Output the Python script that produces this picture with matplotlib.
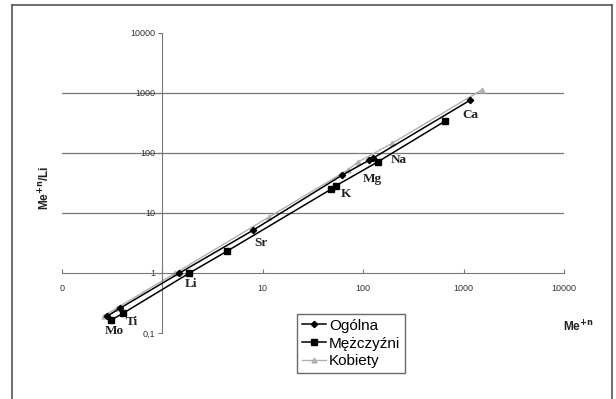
# -*- coding:utf-8 -*-
import matplotlib as mpl
import matplotlib.pyplot as plt
from matplotlib.lines import Line2D

mpl.rcParams['font.family'] = ['Liberation Sans', 'DejaVu Sans']
mpl.rcParams['mathtext.default'] = 'bf'

# element names (sorted by x)
elements = ['Mo', 'Ti', 'Li', 'Sr', 'K', 'Mg', 'Na', 'Ca']

# Ogólna
og_x = [0.283, 0.382, 1.48, 8.06, 62, 115, 126, 1170]
og_y = [0.192, 0.261, 1.0, 5.2, 43, 76, 82.6, 765]
# Mężczyźni
m_x = [0.31, 0.409, 1.86, 4.44, 48, 53, 139, 656]
m_y = [0.165, 0.215, 1.0, 2.33, 25, 28.2, 70.8, 341]
# Kobiety
k_x = [0.26, 0.35, 1.35, 11.6, 70, 88, 195, 1510]
k_y = [0.192, 0.26, 1.0, 8.6, 52, 70, 146, 1122]

xticks = [0.1, 1, 10, 100, 1000, 10000]
xtick_labels = ['0', '', '10', '100', '1000', '10000']
yticks = [0.1, 1, 10, 100, 1000, 10000]
ytick_labels = ['0,1', '1', '10', '100', '1000', '10000']

# label offsets in pixels from the Ogólna point
label_offsets = [(7, -15), (11, -14), (11, -11), (8, -13),
                 (4, -19), (3, -19), (26, -2), (0, -15)]

figure = plt.figure(figsize=(6.16, 3.99), dpi=100)
ax = figure.add_axes([62 / 616, 66 / 399, 502 / 616, 300 / 399])
ax.set_xscale('log')
ax.set_yscale('log')
ax.set_xlim(0.1, 10000)
ax.set_ylim(0.1, 10000)

# grid lines
for g in [10, 100, 1000]:
    ax.axhline(g, color='#777777', lw=0.9, zorder=1)

l1, = ax.plot(og_x, og_y, color='black', lw=1.1, marker='D', ms=3.2, zorder=4, label='Ogólna')
l2, = ax.plot(m_x, m_y, color='black', lw=1.1, marker='s', ms=4, zorder=3, label='Mężczyźni')
l3, = ax.plot(k_x, k_y, color='#b0b0b0', lw=1.0, marker='^', ms=3.5, zorder=2, label='Kobiety')

for name, x, y, off in zip(elements, og_x, og_y, label_offsets):
    ax.annotate(name, (x, y), xytext=off, textcoords='offset pixels',
                ha='center', va='center', fontsize=9.5, fontweight='bold',
                family='Liberation Serif', color='#222222')

# axes crossing at 1
for s in ['top', 'right']:
    ax.spines[s].set_visible(False)
ax.spines['left'].set_position(('data', 1))
ax.spines['bottom'].set_position(('data', 1))
ax.spines['left'].set_color('#777777')
ax.spines['bottom'].set_color('#777777')
ax.set_xticks(xticks)
ax.set_xticklabels(xtick_labels)
ax.set_yticks(yticks)
ax.set_yticklabels(ytick_labels)
ax.minorticks_off()
ax.tick_params(axis='x', direction='in', length=3, color='#777777', labelsize=6.5, labelcolor='#333333', pad=8)
ax.tick_params(axis='y', direction='out', length=3, color='#777777', labelsize=6.5, labelcolor='#333333', pad=2)
ax.patch.set_visible(False)

figure.text(45 / 616, 1 - 188 / 399, 'Me$^{+n}$/Li', rotation=90, ha='center', va='center',
            fontsize=8.5, fontweight='bold', color='#222222')
figure.text(578 / 616, 1 - 327 / 399, 'Me$^{+n}$', ha='center', va='center',
            fontsize=8.5, fontweight='bold', color='#222222')

leg = figure.legend(handles=[l1, l2, l3], loc='lower left', bbox_to_anchor=(297 / 616, 26 / 399),
                    fontsize=11, frameon=True, fancybox=False, handlelength=1.6, handletextpad=0.2,
                    borderpad=0.3, labelspacing=0.25, borderaxespad=0)
leg.get_frame().set_edgecolor('#444444')
leg.get_frame().set_linewidth(1)

# outer frame
fc = '#555555'
figure.add_artist(Line2D([12 / 616, 12 / 616], [0, 1 - 5 / 399], color=fc, lw=1.2))
figure.add_artist(Line2D([12 / 616, 612 / 616], [1 - 5 / 399, 1 - 5 / 399], color=fc, lw=1.2))
figure.add_artist(Line2D([612 / 616, 612 / 616], [0, 1 - 5 / 399], color=fc, lw=1.2))

figure.savefig('out.png', dpi=100)
